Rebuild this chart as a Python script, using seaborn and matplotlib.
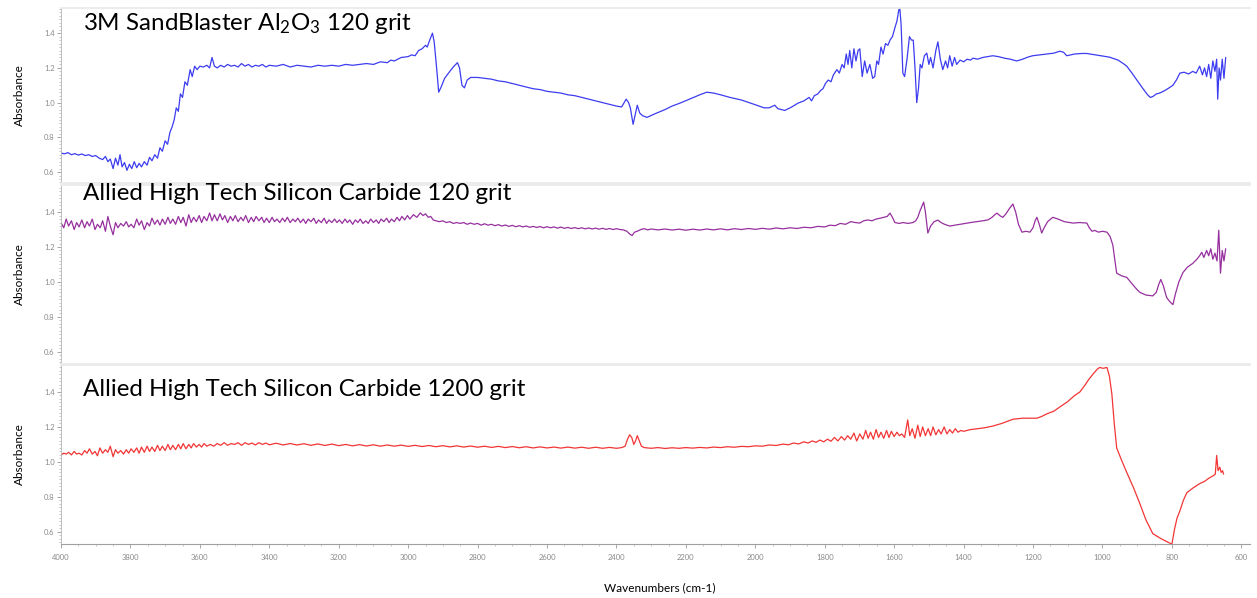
import numpy as np
import matplotlib
matplotlib.use("Agg")
import matplotlib.pyplot as plt
from matplotlib.ticker import MultipleLocator, FormatStrFormatter
import seaborn as sns

# ---- spectra: (wavenumber cm-1, absorbance) ----
al2o3_120 = [
    (4000, 0.71), (3990, 0.705), (3980, 0.712), (3970, 0.70), (3960, 0.706), (3950, 0.698),
    (3940, 0.704), (3930, 0.695), (3920, 0.70), (3910, 0.69), (3900, 0.695), (3890, 0.68),
    (3880, 0.672), (3872, 0.69), (3865, 0.66), (3858, 0.675), (3850, 0.62), (3843, 0.68),
    (3836, 0.64), (3830, 0.70), (3824, 0.63), (3817, 0.655), (3810, 0.61), (3803, 0.645),
    (3796, 0.62), (3789, 0.66), (3782, 0.625), (3775, 0.65), (3768, 0.63), (3760, 0.66),
    (3752, 0.64), (3745, 0.685), (3738, 0.665), (3730, 0.70), (3722, 0.68), (3715, 0.74),
    (3708, 0.72), (3700, 0.78), (3693, 0.76), (3686, 0.83), (3680, 0.86), (3674, 0.90),
    (3668, 0.97), (3662, 0.95), (3656, 1.05), (3650, 1.03), (3643, 1.12), (3636, 1.10),
    (3628, 1.19), (3622, 1.15), (3615, 1.21), (3608, 1.19), (3600, 1.21), (3590, 1.205),
    (3580, 1.215), (3572, 1.20), (3565, 1.26), (3558, 1.21), (3550, 1.20), (3540, 1.215),
    (3530, 1.205), (3520, 1.22), (3510, 1.21), (3500, 1.215), (3490, 1.205), (3480, 1.225),
    (3470, 1.21), (3460, 1.22), (3450, 1.205), (3440, 1.215), (3430, 1.21), (3420, 1.22),
    (3410, 1.205), (3400, 1.215), (3380, 1.21), (3360, 1.22), (3340, 1.205), (3320, 1.215),
    (3300, 1.21), (3280, 1.205), (3260, 1.215), (3240, 1.21), (3220, 1.215), (3200, 1.21),
    (3180, 1.22), (3160, 1.215), (3140, 1.22), (3120, 1.225), (3100, 1.22), (3080, 1.235),
    (3060, 1.23), (3050, 1.245), (3040, 1.24), (3020, 1.26), (3000, 1.265), (2990, 1.275),
    (2980, 1.27), (2970, 1.30), (2960, 1.31), (2950, 1.33), (2945, 1.32), (2938, 1.36),
    (2930, 1.40), (2925, 1.35), (2918, 1.20), (2912, 1.06), (2905, 1.09), (2895, 1.14),
    (2880, 1.18), (2868, 1.21), (2858, 1.23), (2852, 1.20), (2845, 1.10), (2838, 1.085),
    (2830, 1.13), (2820, 1.145), (2800, 1.145), (2780, 1.14), (2760, 1.135), (2740, 1.125),
    (2720, 1.12), (2700, 1.11), (2680, 1.10), (2660, 1.09), (2640, 1.08), (2620, 1.075),
    (2600, 1.065), (2580, 1.06), (2560, 1.055), (2540, 1.045), (2520, 1.04), (2500, 1.03),
    (2480, 1.02), (2460, 1.01), (2440, 1.0), (2420, 0.99), (2400, 0.98), (2385, 0.975),
    (2372, 1.02), (2365, 1.00), (2360, 0.97), (2352, 0.875), (2345, 0.94), (2340, 0.985),
    (2333, 0.94), (2325, 0.925), (2312, 0.915), (2290, 0.935), (2260, 0.96), (2240, 0.98),
    (2217, 0.997), (2190, 1.02), (2160, 1.045), (2140, 1.06), (2120, 1.055), (2100, 1.045),
    (2073, 1.03), (2040, 1.015), (2010, 0.995), (1996, 0.985), (1975, 0.97), (1960, 0.97),
    (1944, 0.985), (1935, 0.965), (1915, 0.955), (1895, 0.975), (1877, 0.997), (1860, 1.01),
    (1845, 1.03), (1838, 1.01), (1830, 1.04), (1820, 1.05), (1812, 1.07), (1805, 1.08),
    (1798, 1.11), (1790, 1.13), (1782, 1.12), (1775, 1.16), (1765, 1.19), (1758, 1.17),
    (1750, 1.22), (1744, 1.20), (1738, 1.28), (1733, 1.22), (1728, 1.30), (1722, 1.20),
    (1716, 1.31), (1710, 1.24), (1704, 1.30), (1699, 1.31), (1692, 1.15), (1685, 1.24),
    (1678, 1.17), (1670, 1.22), (1662, 1.14), (1656, 1.15), (1650, 1.24), (1645, 1.22),
    (1638, 1.32), (1632, 1.28), (1625, 1.34), (1618, 1.33), (1612, 1.36), (1605, 1.38),
    (1598, 1.43), (1592, 1.47), (1587, 1.53), (1584, 1.55), (1580, 1.45), (1575, 1.17),
    (1570, 1.15), (1563, 1.25), (1556, 1.38), (1550, 1.36), (1545, 1.36), (1540, 1.20),
    (1535, 1.0), (1530, 1.08), (1525, 1.22), (1520, 1.20), (1513, 1.27), (1506, 1.285),
    (1500, 1.22), (1495, 1.26), (1488, 1.20), (1480, 1.30), (1474, 1.35), (1467, 1.25),
    (1460, 1.19), (1452, 1.24), (1446, 1.20), (1440, 1.27), (1433, 1.21), (1426, 1.26),
    (1420, 1.22), (1410, 1.245), (1400, 1.235), (1390, 1.25), (1380, 1.245), (1373, 1.256),
    (1360, 1.25), (1345, 1.26), (1330, 1.265), (1316, 1.27), (1300, 1.265), (1280, 1.255),
    (1265, 1.25), (1247, 1.24), (1230, 1.25), (1215, 1.262), (1201, 1.27), (1180, 1.275),
    (1160, 1.28), (1140, 1.285), (1123, 1.296), (1112, 1.29), (1103, 1.27), (1080, 1.28),
    (1060, 1.283), (1045, 1.283), (1020, 1.275), (1000, 1.268), (980, 1.262), (970, 1.255),
    (955, 1.245), (940, 1.225), (930, 1.21), (915, 1.17), (901, 1.13), (885, 1.085),
    (870, 1.045), (862, 1.03), (855, 1.035), (845, 1.05), (835, 1.055), (820, 1.07),
    (808, 1.085), (797, 1.10), (787, 1.13), (777, 1.17), (765, 1.175), (752, 1.165),
    (740, 1.18), (730, 1.17), (720, 1.21), (712, 1.16), (706, 1.20), (700, 1.15),
    (694, 1.22), (688, 1.14), (682, 1.24), (676, 1.18), (671, 1.25), (668, 1.02),
    (664, 1.20), (660, 1.13), (655, 1.25), (650, 1.14), (645, 1.26),
]

sic_120 = [
    (4000, 1.34), (3992, 1.31), (3985, 1.36), (3978, 1.32), (3970, 1.35), (3962, 1.30),
    (3955, 1.34), (3948, 1.315), (3940, 1.355), (3932, 1.31), (3925, 1.345), (3918, 1.32),
    (3910, 1.36), (3902, 1.30), (3895, 1.33), (3887, 1.31), (3880, 1.35), (3872, 1.29),
    (3865, 1.375), (3858, 1.32), (3850, 1.27), (3843, 1.34), (3836, 1.31), (3828, 1.335),
    (3820, 1.32), (3812, 1.345), (3805, 1.315), (3798, 1.33), (3790, 1.31), (3782, 1.36),
    (3775, 1.325), (3768, 1.35), (3760, 1.30), (3752, 1.34), (3745, 1.32), (3738, 1.365),
    (3730, 1.33), (3722, 1.355), (3715, 1.325), (3708, 1.36), (3700, 1.33), (3692, 1.37),
    (3685, 1.335), (3678, 1.36), (3670, 1.33), (3662, 1.375), (3655, 1.34), (3648, 1.37),
    (3640, 1.32), (3632, 1.385), (3625, 1.34), (3618, 1.37), (3610, 1.345), (3602, 1.38),
    (3595, 1.34), (3588, 1.375), (3580, 1.35), (3572, 1.395), (3565, 1.35), (3558, 1.385),
    (3550, 1.35), (3542, 1.39), (3535, 1.355), (3528, 1.38), (3520, 1.34), (3512, 1.375),
    (3505, 1.35), (3498, 1.38), (3490, 1.345), (3482, 1.37), (3475, 1.35), (3468, 1.38),
    (3460, 1.34), (3452, 1.37), (3445, 1.345), (3438, 1.375), (3430, 1.35), (3422, 1.37),
    (3415, 1.34), (3408, 1.365), (3400, 1.34), (3392, 1.37), (3385, 1.345), (3378, 1.36),
    (3370, 1.34), (3362, 1.365), (3355, 1.345), (3348, 1.37), (3340, 1.34), (3332, 1.36),
    (3325, 1.345), (3318, 1.365), (3310, 1.34), (3302, 1.36), (3295, 1.335), (3288, 1.36),
    (3280, 1.345), (3272, 1.365), (3265, 1.335), (3258, 1.355), (3250, 1.34), (3242, 1.365),
    (3235, 1.335), (3228, 1.355), (3220, 1.34), (3212, 1.36), (3205, 1.34), (3198, 1.355),
    (3190, 1.335), (3182, 1.36), (3175, 1.34), (3168, 1.355), (3160, 1.33), (3152, 1.355),
    (3145, 1.34), (3138, 1.36), (3130, 1.335), (3122, 1.35), (3115, 1.335), (3108, 1.36),
    (3100, 1.34), (3092, 1.355), (3085, 1.335), (3078, 1.36), (3070, 1.345), (3062, 1.365),
    (3055, 1.34), (3048, 1.36), (3040, 1.345), (3032, 1.37), (3025, 1.35), (3018, 1.375),
    (3010, 1.355), (3002, 1.38), (2995, 1.36), (2985, 1.385), (2975, 1.37), (2965, 1.395),
    (2957, 1.38), (2950, 1.39), (2942, 1.37), (2935, 1.375), (2928, 1.355), (2920, 1.35),
    (2910, 1.345), (2900, 1.35), (2890, 1.34), (2880, 1.345), (2870, 1.335), (2860, 1.34),
    (2850, 1.335), (2840, 1.34), (2830, 1.33), (2820, 1.337), (2810, 1.33), (2800, 1.335),
    (2790, 1.325), (2780, 1.333), (2770, 1.325), (2760, 1.33), (2750, 1.322), (2740, 1.328),
    (2730, 1.32), (2720, 1.326), (2710, 1.318), (2700, 1.324), (2690, 1.316), (2680, 1.322),
    (2670, 1.315), (2660, 1.32), (2650, 1.313), (2640, 1.318), (2630, 1.312), (2620, 1.317),
    (2610, 1.31), (2600, 1.316), (2590, 1.31), (2580, 1.315), (2570, 1.308), (2560, 1.314),
    (2550, 1.307), (2540, 1.312), (2530, 1.306), (2520, 1.311), (2510, 1.305), (2500, 1.31),
    (2490, 1.304), (2480, 1.309), (2470, 1.303), (2460, 1.308), (2450, 1.302), (2440, 1.307),
    (2430, 1.301), (2420, 1.306), (2410, 1.30), (2400, 1.305), (2390, 1.30), (2380, 1.298),
    (2370, 1.29), (2362, 1.275), (2355, 1.265), (2348, 1.285), (2340, 1.29), (2330, 1.30),
    (2320, 1.305), (2310, 1.298), (2300, 1.303), (2280, 1.298), (2260, 1.303), (2240, 1.297),
    (2220, 1.302), (2200, 1.296), (2180, 1.302), (2160, 1.297), (2140, 1.303), (2120, 1.298),
    (2100, 1.304), (2080, 1.298), (2060, 1.305), (2040, 1.30), (2020, 1.306), (2000, 1.301),
    (1980, 1.307), (1960, 1.302), (1940, 1.309), (1920, 1.304), (1900, 1.31), (1880, 1.306),
    (1860, 1.313), (1840, 1.31), (1820, 1.318), (1800, 1.315), (1785, 1.325), (1770, 1.322),
    (1755, 1.335), (1740, 1.33), (1725, 1.345), (1712, 1.34), (1699, 1.337), (1688, 1.35),
    (1676, 1.355), (1664, 1.35), (1652, 1.36), (1640, 1.365), (1630, 1.37), (1620, 1.375),
    (1612, 1.394), (1605, 1.37), (1598, 1.34), (1585, 1.335), (1575, 1.34), (1560, 1.335),
    (1546, 1.34), (1538, 1.35), (1532, 1.37), (1525, 1.41), (1515, 1.457), (1510, 1.40),
    (1503, 1.28), (1495, 1.32), (1485, 1.345), (1474, 1.354), (1465, 1.34), (1455, 1.33),
    (1440, 1.32), (1425, 1.325), (1410, 1.33), (1395, 1.335), (1380, 1.34), (1362, 1.345),
    (1345, 1.35), (1330, 1.355), (1318, 1.37), (1310, 1.385), (1304, 1.394), (1296, 1.38),
    (1287, 1.37), (1278, 1.39), (1268, 1.42), (1258, 1.446), (1250, 1.40), (1242, 1.33),
    (1232, 1.285), (1220, 1.29), (1209, 1.285), (1200, 1.31), (1194, 1.35), (1189, 1.37),
    (1182, 1.33), (1175, 1.28), (1168, 1.31), (1158, 1.345), (1143, 1.37), (1128, 1.36),
    (1110, 1.345), (1095, 1.34), (1085, 1.337), (1065, 1.34), (1045, 1.337), (1038, 1.31),
    (1030, 1.29), (1022, 1.295), (1012, 1.285), (1000, 1.29), (987, 1.285), (978, 1.26),
    (970, 1.21), (964, 1.12), (959, 1.05), (945, 1.035), (930, 1.026), (915, 0.99),
    (900, 0.955), (892, 0.94), (875, 0.925), (855, 0.92), (845, 0.94), (838, 0.985),
    (832, 1.014), (825, 0.98), (815, 0.91), (805, 0.885), (797, 0.87), (790, 0.93),
    (780, 1.0), (768, 1.054), (755, 1.085), (740, 1.106), (728, 1.13), (720, 1.15),
    (714, 1.17), (708, 1.14), (700, 1.18), (694, 1.15), (688, 1.19), (682, 1.13),
    (676, 1.165), (670, 1.12), (665, 1.296), (660, 1.05), (655, 1.18), (650, 1.12),
    (645, 1.19),
]

sic_1200 = [
    (4000, 1.04), (3992, 1.05), (3985, 1.045), (3978, 1.055), (3970, 1.04), (3962, 1.06),
    (3955, 1.045), (3948, 1.05), (3940, 1.04), (3932, 1.065), (3925, 1.05), (3918, 1.075),
    (3910, 1.045), (3902, 1.06), (3895, 1.035), (3888, 1.08), (3880, 1.05), (3872, 1.07),
    (3865, 1.055), (3858, 1.09), (3850, 1.03), (3843, 1.07), (3836, 1.05), (3828, 1.065),
    (3820, 1.045), (3812, 1.07), (3805, 1.05), (3798, 1.075), (3790, 1.055), (3782, 1.08),
    (3775, 1.05), (3768, 1.085), (3760, 1.055), (3752, 1.09), (3745, 1.06), (3738, 1.085),
    (3730, 1.06), (3722, 1.095), (3715, 1.065), (3708, 1.09), (3700, 1.065), (3692, 1.10),
    (3685, 1.07), (3678, 1.095), (3670, 1.07), (3662, 1.10), (3655, 1.075), (3648, 1.105),
    (3640, 1.075), (3632, 1.10), (3625, 1.08), (3618, 1.105), (3610, 1.085), (3602, 1.10),
    (3595, 1.085), (3588, 1.105), (3580, 1.09), (3570, 1.10), (3560, 1.09), (3550, 1.105),
    (3540, 1.095), (3530, 1.11), (3520, 1.095), (3510, 1.105), (3500, 1.10), (3490, 1.11),
    (3480, 1.095), (3470, 1.11), (3460, 1.10), (3450, 1.108), (3440, 1.097), (3430, 1.11),
    (3420, 1.10), (3410, 1.108), (3400, 1.098), (3380, 1.107), (3360, 1.097), (3340, 1.105),
    (3320, 1.097), (3300, 1.104), (3280, 1.095), (3260, 1.103), (3240, 1.094), (3220, 1.102),
    (3200, 1.093), (3180, 1.10), (3160, 1.092), (3140, 1.099), (3120, 1.091), (3100, 1.098),
    (3080, 1.09), (3060, 1.097), (3040, 1.09), (3020, 1.096), (3000, 1.089), (2980, 1.095),
    (2960, 1.088), (2940, 1.094), (2920, 1.087), (2900, 1.093), (2880, 1.086), (2860, 1.092),
    (2840, 1.085), (2820, 1.091), (2800, 1.084), (2780, 1.09), (2760, 1.083), (2740, 1.089),
    (2720, 1.082), (2700, 1.088), (2680, 1.081), (2660, 1.087), (2640, 1.08), (2620, 1.086),
    (2600, 1.08), (2580, 1.085), (2560, 1.079), (2540, 1.085), (2520, 1.079), (2500, 1.084),
    (2480, 1.078), (2460, 1.084), (2440, 1.078), (2420, 1.083), (2400, 1.078), (2385, 1.082),
    (2375, 1.09), (2368, 1.13), (2362, 1.155), (2356, 1.14), (2350, 1.10), (2345, 1.12),
    (2340, 1.15), (2334, 1.12), (2328, 1.09), (2320, 1.082), (2300, 1.078), (2280, 1.082),
    (2260, 1.077), (2240, 1.081), (2220, 1.078), (2200, 1.082), (2180, 1.079), (2160, 1.083),
    (2140, 1.08), (2120, 1.085), (2100, 1.082), (2080, 1.087), (2060, 1.084), (2040, 1.089),
    (2020, 1.087), (2000, 1.092), (1980, 1.09), (1960, 1.097), (1940, 1.094), (1920, 1.102),
    (1905, 1.098), (1890, 1.108), (1875, 1.103), (1860, 1.115), (1848, 1.108), (1836, 1.12),
    (1825, 1.112), (1814, 1.125), (1803, 1.115), (1792, 1.13), (1782, 1.118), (1772, 1.14),
    (1762, 1.12), (1752, 1.145), (1743, 1.125), (1734, 1.15), (1725, 1.13), (1716, 1.165),
    (1708, 1.12), (1699, 1.16), (1690, 1.13), (1682, 1.18), (1675, 1.135), (1668, 1.17),
    (1660, 1.13), (1652, 1.185), (1645, 1.14), (1638, 1.17), (1630, 1.135), (1622, 1.18),
    (1615, 1.14), (1608, 1.175), (1600, 1.145), (1592, 1.17), (1585, 1.15), (1578, 1.16),
    (1570, 1.14), (1561, 1.24), (1555, 1.15), (1548, 1.19), (1540, 1.135), (1532, 1.21),
    (1525, 1.145), (1518, 1.20), (1510, 1.15), (1502, 1.19), (1495, 1.15), (1488, 1.20),
    (1480, 1.155), (1472, 1.185), (1465, 1.16), (1456, 1.20), (1448, 1.16), (1440, 1.185),
    (1432, 1.165), (1424, 1.19), (1416, 1.17), (1408, 1.18), (1400, 1.175), (1380, 1.185),
    (1360, 1.19), (1340, 1.195), (1316, 1.205), (1290, 1.22), (1270, 1.235), (1258, 1.244),
    (1230, 1.25), (1210, 1.25), (1189, 1.25), (1175, 1.26), (1160, 1.275), (1140, 1.29),
    (1123, 1.314), (1100, 1.345), (1080, 1.38), (1065, 1.40), (1050, 1.44), (1040, 1.47),
    (1028, 1.50), (1015, 1.53), (1008, 1.54), (998, 1.535), (987, 1.54), (980, 1.49),
    (973, 1.39), (966, 1.22), (959, 1.08), (945, 1.01), (930, 0.94), (910, 0.85),
    (892, 0.76), (875, 0.67), (855, 0.59), (830, 0.56), (815, 0.545), (805, 0.535),
    (800, 0.53), (792, 0.62), (785, 0.68), (777, 0.72), (767, 0.78), (757, 0.824),
    (740, 0.85), (720, 0.876), (705, 0.89), (695, 0.905), (682, 0.92), (675, 0.93),
    (671, 1.037), (667, 0.95), (662, 0.97), (658, 0.94), (654, 0.95), (651, 0.93),
]

titles = [
    "3M SandBlaster Al$_2$O$_3$ 120 grit",
    "Allied High Tech Silicon Carbide 120 grit",
    "Allied High Tech Silicon Carbide 1200 grit",
]
colors = ["#3c3cf0", "#96309e", "#f23535"]
spectra = [al2o3_120, sic_120, sic_1200]

# ---- style ----
sns.set_style("white")
plt.rcParams["font.family"] = ["Lato", "DejaVu Sans"]
plt.rcParams["mathtext.default"] = "regular"

W, H = 1257, 598
fig = plt.figure(figsize=(W / 100, H / 100), dpi=100)
fig.patch.set_facecolor("white")

x0, x1 = 61, 1250
panel_px = [(8, 183), (185, 364), (365, 544)]
ylims = [(0.537, 1.545), (0.53, 1.555), (0.531, 1.554)]
title_baseline = [30, 200, 396]

for i, (data, col, title) in enumerate(zip(spectra, colors, titles)):
    top, bot = panel_px[i]
    ax = fig.add_axes([x0 / W, 1 - bot / H, (x1 - x0) / W, (bot - top) / H])
    arr = np.array(data)
    sns.lineplot(x=arr[:, 0], y=arr[:, 1], ax=ax, sort=False, estimator=None,
                 color=col, linewidth=0.9)
    ax.set_xlim(4000, 575)
    ax.set_ylim(*ylims[i])

    ax.yaxis.set_major_locator(MultipleLocator(0.2))
    ax.yaxis.set_minor_locator(MultipleLocator(0.02))
    ax.yaxis.set_major_formatter(FormatStrFormatter("%.1f"))
    ax.tick_params(axis="y", which="major", direction="out", length=3, width=0.6,
                   color="#9a9a9a", labelsize=5.5, labelcolor="#8a8a8a", pad=1.5, left=True)
    ax.tick_params(axis="y", which="minor", direction="out", length=1.5, width=0.5,
                   color="#b0b0b0", left=True)
    ax.set_ylabel("Absorbance", fontsize=8.5, color="black", labelpad=14)

    ax.spines["right"].set_visible(False)
    ax.spines["left"].set_color("#b5b5b5")
    ax.spines["left"].set_linewidth(0.6)
    ax.spines["top"].set_color("#ebebeb")
    ax.spines["top"].set_linewidth(1.3)

    if i < 2:
        ax.spines["bottom"].set_color("#ebebeb")
        ax.spines["bottom"].set_linewidth(1.3)
        ax.tick_params(axis="x", which="both", bottom=False, labelbottom=False)
    else:
        ax.spines["bottom"].set_color("#a0a0a0")
        ax.spines["bottom"].set_linewidth(0.8)
        ax.xaxis.set_major_locator(MultipleLocator(200))
        ax.xaxis.set_minor_locator(MultipleLocator(50))
        ax.xaxis.set_major_formatter(FormatStrFormatter("%d"))
        ax.tick_params(axis="x", which="major", direction="out", length=3, width=0.6,
                       color="#9a9a9a", labelsize=5.5, labelcolor="#8a8a8a", pad=4,
                       bottom=True)
        ax.tick_params(axis="x", which="minor", direction="out", length=1.5, width=0.5,
                       color="#b0b0b0", bottom=True)
    ax.set_xlabel("")

    fig.text(83 / W, 1 - title_baseline[i] / H, title, fontsize=17.4, color="black",
             ha="left", va="baseline")

fig.text(660 / W, 1 - 591 / H, "Wavenumbers (cm-1)", fontsize=8.5, color="black",
         ha="center", va="baseline")

fig.savefig("out.png", dpi=100, facecolor="white")
